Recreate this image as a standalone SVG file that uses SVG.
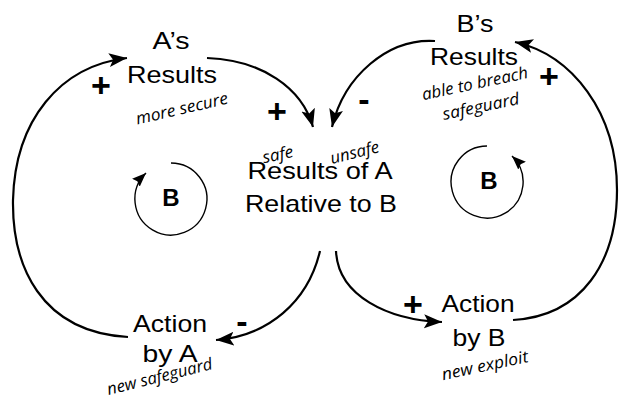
<svg xmlns="http://www.w3.org/2000/svg" width="619" height="401" viewBox="0 0 619 401">
<style>
.lbl{font-family:"Liberation Sans",Arial,sans-serif;font-size:24px;fill:#000;text-anchor:middle}
.note{font-family:"Open Sans","Noto Sans",sans-serif;font-style:italic;font-size:16.5px;fill:#000;text-anchor:middle}
.sign{font-family:"Liberation Sans",Arial,sans-serif;font-weight:bold;font-size:34px;fill:#000;text-anchor:middle}
.loopB{font-family:"Liberation Sans",Arial,sans-serif;font-weight:bold;font-size:24px;fill:#000;text-anchor:middle}
.link{fill:none;stroke:#000;stroke-width:2.2}
.loop{fill:none;stroke:#000;stroke-width:1.4}
</style>
<defs>
<marker id="ah" markerUnits="userSpaceOnUse" markerWidth="20" markerHeight="16" refX="18" refY="7" orient="auto">
<path d="M0,0 L18,7 L0,14 L4,7 z" fill="#000"/>
</marker>
<marker id="ahs" markerUnits="userSpaceOnUse" markerWidth="16" markerHeight="12" refX="14" refY="5.5" orient="auto">
<path d="M0,0 L14,5.5 L0,11 L2,5.5 z" fill="#000"/>
</marker>
</defs>
<g id="connectors">
<path class="link" d="M128,337 C40,332 12,265 13,200 C15,120 60,66 127,58" marker-end="url(#ah)"/>
<path class="link" d="M207,58 C262,60 302,88 313,127" marker-end="url(#ah)"/>
<path class="link" d="M435,41 C388,38 344,76 332,127" marker-end="url(#ah)"/>
<path class="link" d="M320,251 C308,302 268,336 216,340" marker-end="url(#ah)"/>
<path class="link" d="M336,251 C338,296 388,320 442,322" marker-end="url(#ah)"/>
<path class="link" d="M513,320 C582,316 617,262 617,190 C617,112 572,55 515,42" marker-end="url(#ah)"/>
<text class="sign" x="101" y="97">+</text>
<text class="sign" x="277" y="123">+</text>
<text class="sign" x="549" y="88">+</text>
<text class="sign" x="413" y="316">+</text>
<text class="sign" x="364" y="111">-</text>
<text class="sign" x="242" y="333">-</text>
</g>
<g id="as-results">
<text class="lbl" x="171" y="49" textLength="37" lengthAdjust="spacingAndGlyphs">A’s</text>
<text class="lbl" x="172" y="83" textLength="90" lengthAdjust="spacingAndGlyphs">Results</text>
<text class="note" transform="translate(183,114) rotate(-13)" textLength="94" lengthAdjust="spacingAndGlyphs">more secure</text>
</g>
<g id="bs-results">
<text class="lbl" x="475" y="32" textLength="37" lengthAdjust="spacingAndGlyphs">B’s</text>
<text class="lbl" x="474" y="65" textLength="88" lengthAdjust="spacingAndGlyphs">Results</text>
<text class="note" transform="translate(476,89) rotate(-12)" textLength="108" lengthAdjust="spacingAndGlyphs">able to breach</text>
<text class="note" transform="translate(482,112) rotate(-12)" textLength="78" lengthAdjust="spacingAndGlyphs">safeguard</text>
</g>
<g id="results-relative">
<text class="lbl" x="320" y="179" textLength="145" lengthAdjust="spacingAndGlyphs">Results of A</text>
<text class="lbl" x="321" y="212" textLength="152" lengthAdjust="spacingAndGlyphs">Relative to B</text>
<text class="note" transform="translate(279,160) rotate(-12)" textLength="31" lengthAdjust="spacingAndGlyphs">safe</text>
<text class="note" transform="translate(356,158) rotate(-14)" textLength="50" lengthAdjust="spacingAndGlyphs">unsafe</text>
</g>
<g id="action-a">
<text class="lbl" x="170" y="332" textLength="74" lengthAdjust="spacingAndGlyphs">Action</text>
<text class="lbl" x="170" y="362" textLength="55" lengthAdjust="spacingAndGlyphs">by A</text>
<text class="note" transform="translate(161,382) rotate(-14)" textLength="108" lengthAdjust="spacingAndGlyphs">new safeguard</text>
</g>
<g id="action-b">
<text class="lbl" x="478" y="312" textLength="73" lengthAdjust="spacingAndGlyphs">Action</text>
<text class="lbl" x="479" y="346" textLength="53" lengthAdjust="spacingAndGlyphs">by B</text>
<text class="note" transform="translate(486,371) rotate(-12)" textLength="88" lengthAdjust="spacingAndGlyphs">new exploit</text>
</g>
<g id="loop-left">
<path class="loop" d="M171,163 A36,36 0 1 1 146,173" marker-end="url(#ahs)"/>
<text class="loopB" x="171" y="206">B</text>
</g>
<g id="loop-right">
<path class="loop" d="M487,146 A36,36 0 1 0 512,156" marker-end="url(#ahs)"/>
<text class="loopB" x="489" y="189">B</text>
</g>
</svg>
